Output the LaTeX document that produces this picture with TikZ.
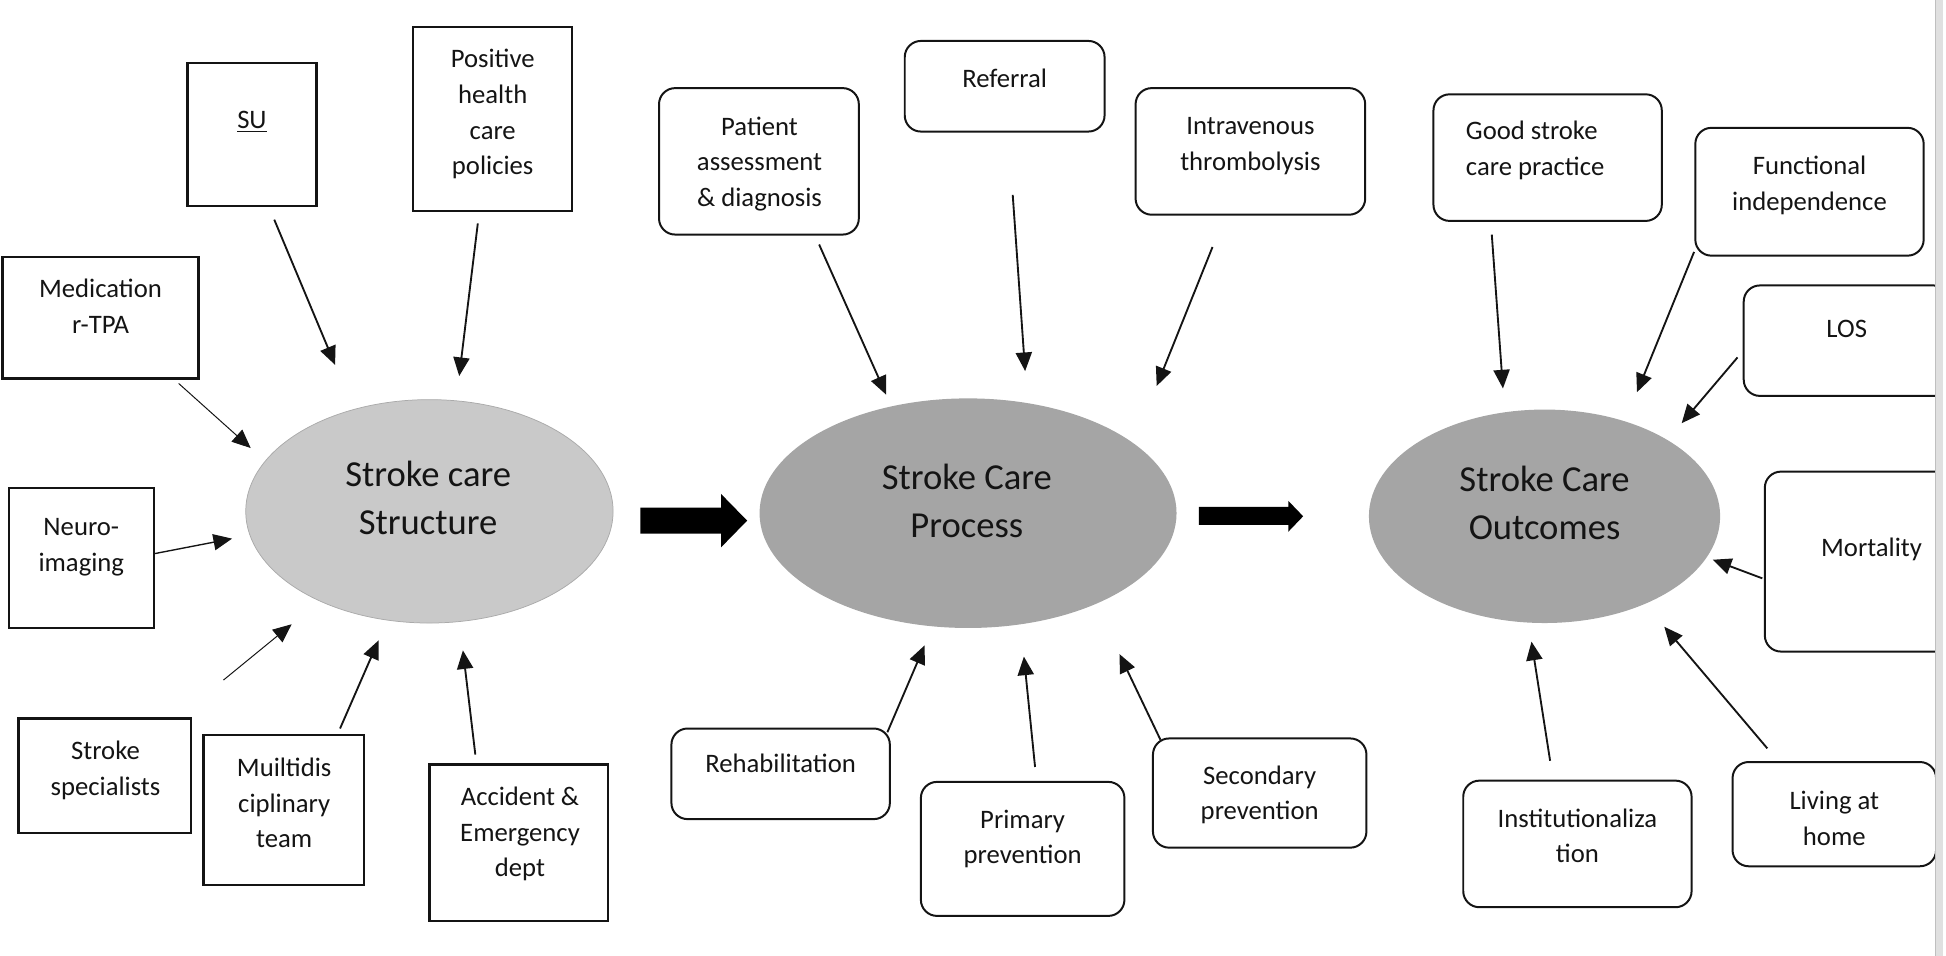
\documentclass[tikz,border=0pt]{standalone}
\usepackage{fontspec}
\setmainfont{Carlito}
\usetikzlibrary{arrows.meta,shapes.geometric}
\definecolor{lightell}{RGB}{201,201,201}
\definecolor{lightelldraw}{RGB}{170,170,170}
\definecolor{darkell}{RGB}{165,165,165}
\definecolor{edgegray}{RGB}{224,224,224}
\definecolor{inkc}{RGB}{20,20,20}
\begin{document}
\begin{tikzpicture}[x=1pt,y=-1pt,
  sqbox/.style={draw=inkc, line width=1.8pt, inner sep=0pt},
  rbox/.style={draw=inkc, line width=1.6pt, rounded corners=13pt, inner sep=0pt},
  txt/.style={font=\fontsize{21.5}{28.8}\selectfont, align=center, inner sep=0pt, text=inkc},
  etxt/.style={font=\fontsize{29.5}{38.5}\selectfont, align=center, inner sep=0pt, text=inkc},
  arr/.style={draw=inkc, line width=1.5pt, -{Triangle[length=15pt,width=13pt]}},
  midarr/.style={draw=inkc, line width=1.1pt, -{Triangle[length=15pt,width=13pt]}},
  thinarr/.style={draw=inkc, line width=0.8pt, -{Triangle[length=15pt,width=13pt]}},
  ell/.style={ellipse, inner sep=0pt},
  blockarrow/.style={fill=black}]
\useasboundingbox (0,0) rectangle (1568,770);

% ---------- ellipses ----------
\node[ell, fill=lightell, draw=lightelldraw, line width=0.6pt, minimum width=296pt, minimum height=180pt] (e1) at (346,412) {};
\node[ell, fill=darkell, minimum width=336pt, minimum height=185pt] (e2) at (780,413.5) {};
\node[ell, fill=darkell, minimum width=283pt, minimum height=172pt] (e3) at (1244.5,416) {};
\node[etxt] (e1-t) at (345,401) {Stroke care\\Structure};
\node[etxt] (e2-t) at (779,403.5) {Stroke Care\\Process};
\node[etxt] (e3-t) at (1244.5,405) {Stroke Care\\Outcomes};

% ---------- block arrows ----------
\fill[blockarrow] (516,409) -- (581,409) -- (581,398) -- (602,419.5) -- (581,441) -- (581,430) -- (516,430) -- cycle;
\fill[blockarrow] (966,408.5) -- (1038,408.5) -- (1038,403.5) -- (1050,416) -- (1038,428.5) -- (1038,423) -- (966,423) -- cycle;

% ---------- structure boxes ----------
\node[sqbox, minimum width=104pt, minimum height=115pt] (su) at (203,108.5) {};
\node[txt] (su-t) at (203,98) {\underline{SU}};
\node[sqbox, minimum width=128pt, minimum height=148.5pt] (pos) at (397,95.75) {};
\node[txt] (pos-t) at (397,92) {Positive\\health\\care\\policies};
\node[sqbox, minimum width=158pt, minimum height=98pt] (med) at (81,256) {};
\node[txt] (med-t) at (81,246.5) {Medication\\r-TPA};
\node[sqbox, minimum width=117pt, minimum height=113pt] (neuro) at (65.5,449.5) {};
\node[txt] (neuro-t) at (65.5,441) {Neuro-\\imaging};
\node[sqbox, minimum width=139pt, minimum height=92pt] (spec) at (84.5,625) {};
\node[txt] (spec-t) at (85,621) {Stroke\\specialists};
\node[sqbox, minimum width=129pt, minimum height=121pt] (multi) at (228.5,652.5) {};
\node[txt] (multi-t) at (229,647) {Muiltidis\\ciplinary\\team};
\node[sqbox, minimum width=144pt, minimum height=126pt] (acc) at (418,679) {};
\node[txt] (acc-t) at (419,672) {Accident \&\\Emergency\\dept};

% ---------- process boxes ----------
\node[rbox, minimum width=161pt, minimum height=118pt] (pat) at (611.5,130) {};
\node[txt] (pat-t) at (612,132) {Patient\\assessment\\\& diagnosis};
\node[rbox, minimum width=161pt, minimum height=73pt] (ref) at (809.5,69.5) {};
\node[txt] (ref-t) at (809.5,63) {Referral};
\node[rbox, minimum width=185pt, minimum height=102pt] (iv) at (1007.5,122) {};
\node[txt] (iv-t) at (1007.5,117.5) {Intravenous\\thrombolysis};
\node[rbox, minimum width=176pt, minimum height=73pt] (reh) at (629,623.5) {};
\node[txt] (reh-t) at (629,615) {Rehabilitation};
\node[rbox, minimum width=164pt, minimum height=108pt] (prim) at (824,684) {};
\node[txt] (prim-t) at (824,676) {Primary\\prevention};
\node[rbox, minimum width=172pt, minimum height=88pt] (sec) at (1015,639) {};
\node[txt] (sec-t) at (1015,640.5) {Secondary\\prevention};

% ---------- outcome boxes ----------
\node[rbox, minimum width=184pt, minimum height=102pt] (good) at (1247,127) {};
\node[txt, align=left, anchor=west] (good-t) at (1181,121) {Good stroke\\care practice};
\node[rbox, minimum width=184pt, minimum height=103pt] (func) at (1458,154.5) {};
\node[txt] (func-t) at (1458,149.5) {Functional\\independence};
\node[rbox, minimum width=184pt, minimum height=102pt] (inst) at (1271,680) {};
\node[txt] (inst-t) at (1271,673.5) {Institutionaliza\\tion};
\begin{scope}
  \clip (0,0) rectangle (1559.5,770);
  \node[rbox, minimum width=166pt, minimum height=89pt] (los) at (1488,274.5) {};
  \node[txt] (los-t) at (1488,265) {LOS};
  \node[rbox, minimum width=172pt, minimum height=145pt] (mort) at (1508,452.5) {};
  \node[txt] (mort-t) at (1508,443) {Mortality};
  \node[rbox, minimum width=164pt, minimum height=84pt] (liv) at (1478,656) {};
  \node[txt] (liv-t) at (1478,659.5) {Living at\\home};
\end{scope}
\fill[edgegray] (1559.5,0) rectangle (1565.5,770);
\draw[black!25, line width=0.8pt] (1559.8,0) -- (1559.8,770);

% ---------- arrow end points ----------
\coordinate (su-a) at (221,177);    \coordinate (e1-su) at (270,294);
\coordinate (pos-a) at (385,180);   \coordinate (e1-pos) at (370,303);
\coordinate (med-a) at (144,309);   \coordinate (e1-med) at (202,361);
\coordinate (neuro-a) at (125,446); \coordinate (e1-neuro) at (187,434);
\coordinate (spec-a) at (180,548);  \coordinate (e1-spec) at (235,503);
\coordinate (multi-a) at (274,587); \coordinate (e1-multi) at (305,516);
\coordinate (acc-a) at (383,608);   \coordinate (e1-acc) at (373,524);

\coordinate (pat-a) at (660,197);   \coordinate (e2-pat) at (714,318);
\coordinate (ref-a) at (816,157);   \coordinate (e2-ref) at (826,299);
\coordinate (iv-a) at (977,199);    \coordinate (e2-iv) at (932,311);
\coordinate (reh-a) at (715,590);   \coordinate (e2-reh) at (745,520);
\coordinate (prim-a) at (834,618);  \coordinate (e2-prim) at (825,529);
\coordinate (sec-a) at (935,596);   \coordinate (e2-sec) at (902,527);

\coordinate (good-a) at (1202,189); \coordinate (e3-good) at (1211,313);
\coordinate (func-a) at (1365,203); \coordinate (e3-func) at (1319,316);
\coordinate (los-a) at (1400,288);  \coordinate (e3-los) at (1355,341);
\coordinate (mort-a) at (1420,466); \coordinate (e3-mort) at (1380,451);
\coordinate (inst-a) at (1249,613); \coordinate (e3-inst) at (1234,517);
\coordinate (liv-a) at (1424,603);  \coordinate (e3-liv) at (1341,505);

% ---------- arrows ----------
\draw[arr] (su-a) -- (e1-su);
\draw[arr] (pos-a) -- (e1-pos);
\draw[thinarr] (med-a) -- (e1-med);
\draw[midarr] (neuro-a) -- (e1-neuro);
\draw[thinarr] (spec-a) -- (e1-spec);
\draw[arr] (multi-a) -- (e1-multi);
\draw[arr] (acc-a) -- (e1-acc);

\draw[arr] (pat-a) -- (e2-pat);
\draw[arr] (ref-a) -- (e2-ref);
\draw[arr] (iv-a) -- (e2-iv);
\draw[arr] (reh-a) -- (e2-reh);
\draw[arr] (prim-a) -- (e2-prim);
\draw[arr] (sec-a) -- (e2-sec);

\draw[arr] (good-a) -- (e3-good);
\draw[arr] (func-a) -- (e3-func);
\draw[arr] (los-a) -- (e3-los);
\draw[arr] (mort-a) -- (e3-mort);
\draw[arr] (inst-a) -- (e3-inst);
\draw[arr] (liv-a) -- (e3-liv);
\end{tikzpicture}
\end{document}
